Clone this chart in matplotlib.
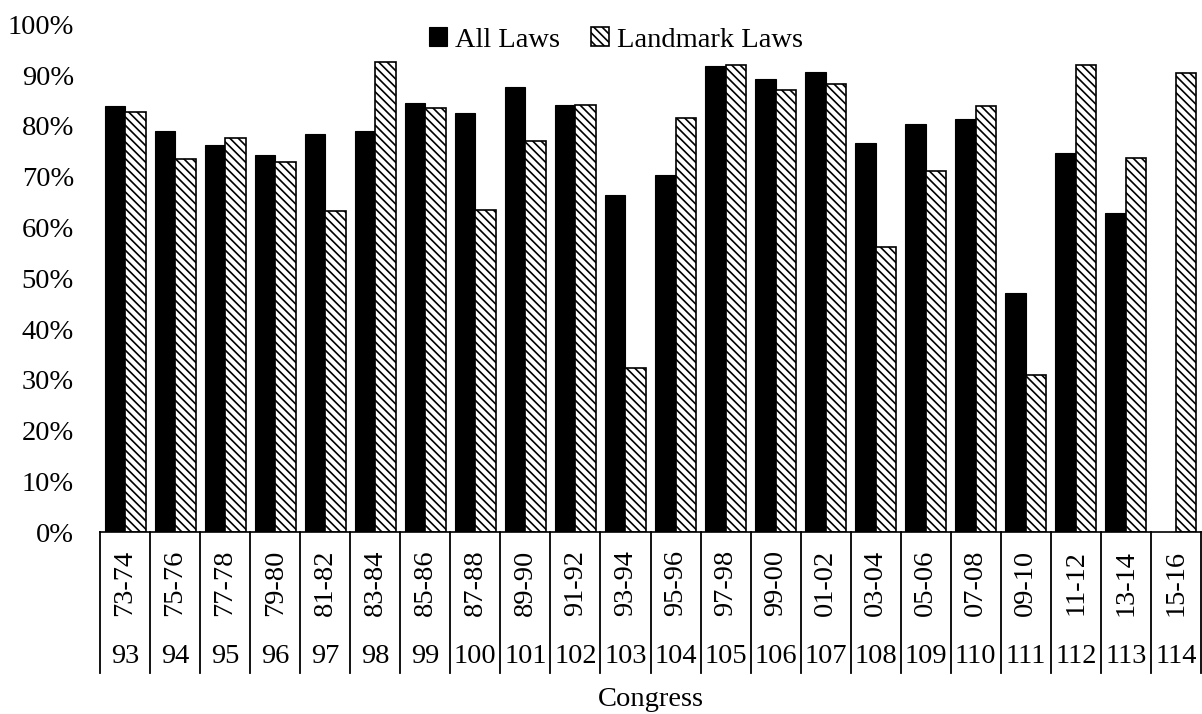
import numpy as np
import matplotlib
matplotlib.use("Agg")
import matplotlib.pyplot as plt
from matplotlib.ticker import FuncFormatter

plt.rcParams['font.family'] = ['Liberation Serif', 'DejaVu Serif']
plt.rcParams['hatch.linewidth'] = 1.2

periods = ["73-74", "75-76", "77-78", "79-80", "81-82", "83-84", "85-86", "87-88",
           "89-90", "91-92", "93-94", "95-96", "97-98", "99-00", "01-02", "03-04",
           "05-06", "07-08", "09-10", "11-12", "13-14", "15-16"]
congress = ["93", "94", "95", "96", "97", "98", "99", "100", "101", "102", "103",
            "104", "105", "106", "107", "108", "109", "110", "111", "112", "113", "114"]

all_laws = [84.0, 79.0, 76.3, 74.3, 78.5, 79.0, 84.5, 82.6, 87.7, 84.1, 66.4,
            70.4, 91.7, 89.3, 90.7, 76.6, 80.4, 81.3, 47.1, 74.7, 62.8, None]
landmark = [82.8, 73.5, 77.6, 72.8, 63.3, 92.6, 83.5, 63.5, 77.0, 84.1, 32.4,
            81.6, 92.0, 87.0, 88.2, 56.2, 71.1, 83.9, 31.0, 92.0, 73.7, 90.5]

FS = 20.5

fig = plt.figure(figsize=(12.02, 7.14), dpi=100)
ax = fig.add_axes([100 / 1202, 181.7 / 714, 1101 / 1202, 508 / 714])

x = np.arange(len(periods))
w = 0.41
all_vals = np.array([np.nan if v is None else v for v in all_laws], dtype=float)

ax.bar(x - w / 2, all_vals, w, color="black", edgecolor="black", linewidth=0.8,
       label="All Laws")
ax.bar(x + w / 2, landmark, w, color="white", edgecolor="black", linewidth=1.2,
       hatch="\\\\\\\\", label="Landmark Laws")

ax.set_xlim(-0.5, len(periods) - 0.5)
ax.set_ylim(0, 100)
ax.set_yticks(np.arange(0, 101, 10))
ax.yaxis.set_major_formatter(FuncFormatter(lambda v, p: "%d%%" % v))
ax.tick_params(axis="y", length=0, pad=18.7, labelsize=FS)
ax.set_xticks([])

for s in ["top", "right", "left"]:
    ax.spines[s].set_visible(False)
ax.spines["bottom"].set_linewidth(1.2)

# two-level category axis
trans = ax.get_xaxis_transform()
for i in range(len(periods) + 1):
    ax.plot([i - 0.5, i - 0.5], [0, -0.277], transform=trans, color="black",
            lw=1.3, clip_on=False)
for i, (p, c) in enumerate(zip(periods, congress)):
    ax.text(i, -0.0998, p, transform=trans, rotation=90, ha="center",
            va="center", fontsize=FS)
    ax.text(i, -0.245, c, transform=trans, ha="center", va="center",
            fontsize=FS)

ax.text(0.5, -0.330, "Congress", transform=ax.transAxes,
        ha="center", va="center", fontsize=FS)

fig.legend(loc="center", bbox_to_anchor=(616 / 1202, 1 - 40 / 714), ncol=2,
           frameon=False, fontsize=FS, handlelength=0.62, handleheight=0.62,
           handletextpad=0.28, columnspacing=1.1, borderpad=0)

fig.savefig("out.png", dpi=100)
